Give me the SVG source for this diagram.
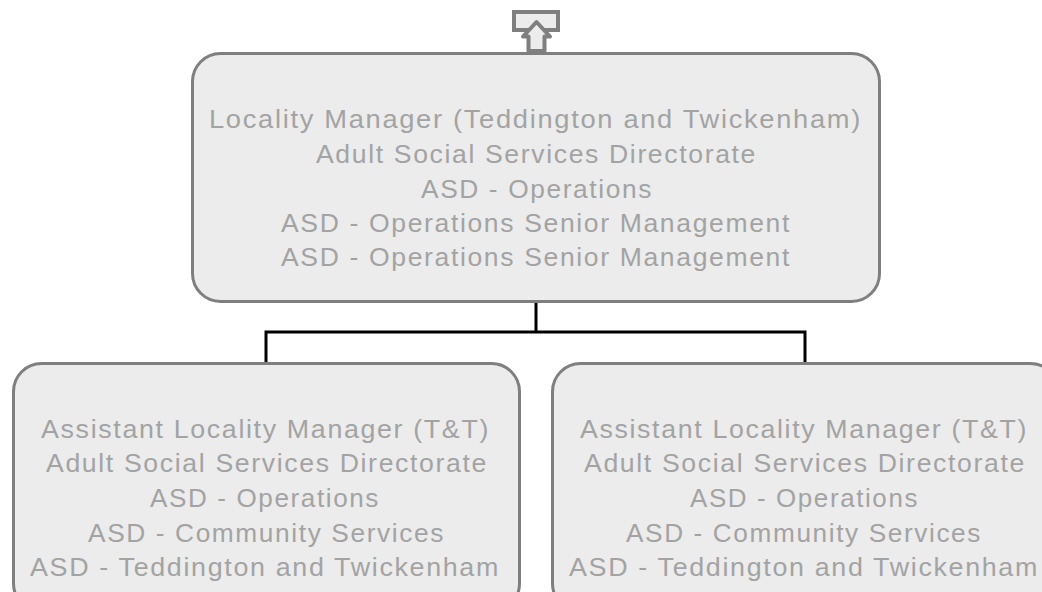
<svg xmlns="http://www.w3.org/2000/svg" width="1042" height="592" viewBox="0 0 1042 592">
<style>
.box{fill:#ececec;stroke:#7f7f7f;stroke-width:3}
.ico{fill:#ececec;stroke:#7f7f7f;stroke-width:4}
.t{font-family:"Liberation Sans",Arial,sans-serif;font-size:26px;fill:#a3a3a3;letter-spacing:1.6px}
.c{fill:none;stroke:#000;stroke-width:3}
</style>
<rect width="1042" height="592" fill="#fff"/>
<g id="connectors">
<path class="c" d="M536 302V332H266V363M536 332H805V363"/>
</g>
<g id="up-icon">
<rect class="ico" x="514" y="12" width="44" height="18"/>
<path class="ico" stroke-linejoin="round" d="M536.5 22L550 36.5H544.5V51H528.5V36.5H523Z"/>
</g>
<g id="manager">
<rect class="box" x="192.5" y="53.5" width="687" height="248" rx="28"/>
<text class="t" x="209" y="128" textLength="653" lengthAdjust="spacingAndGlyphs">Locality Manager (Teddington and Twickenham)</text>
<text class="t" x="316" y="163" textLength="441" lengthAdjust="spacingAndGlyphs">Adult Social Services Directorate</text>
<text class="t" x="421" y="198" textLength="232" lengthAdjust="spacingAndGlyphs">ASD - Operations</text>
<text class="t" x="281" y="232" textLength="510" lengthAdjust="spacingAndGlyphs">ASD - Operations Senior Management</text>
<text class="t" x="281" y="266" textLength="510" lengthAdjust="spacingAndGlyphs">ASD - Operations Senior Management</text>
</g>
<g id="assistant-left">
<rect class="box" x="13.5" y="363.5" width="506" height="248" rx="28"/>
<text class="t" x="41" y="438" textLength="449" lengthAdjust="spacingAndGlyphs">Assistant Locality Manager (T&amp;T)</text>
<text class="t" x="46" y="472" textLength="442" lengthAdjust="spacingAndGlyphs">Adult Social Services Directorate</text>
<text class="t" x="150" y="507" textLength="230" lengthAdjust="spacingAndGlyphs">ASD - Operations</text>
<text class="t" x="88" y="542" textLength="357" lengthAdjust="spacingAndGlyphs">ASD - Community Services</text>
<text class="t" x="30" y="576" textLength="470" lengthAdjust="spacingAndGlyphs">ASD - Teddington and Twickenham</text>
</g>
<g id="assistant-right">
<rect class="box" x="552.5" y="363.5" width="506" height="248" rx="28"/>
<text class="t" x="580" y="438" textLength="448" lengthAdjust="spacingAndGlyphs">Assistant Locality Manager (T&amp;T)</text>
<text class="t" x="584" y="472" textLength="442" lengthAdjust="spacingAndGlyphs">Adult Social Services Directorate</text>
<text class="t" x="690" y="507" textLength="229" lengthAdjust="spacingAndGlyphs">ASD - Operations</text>
<text class="t" x="626" y="542" textLength="356" lengthAdjust="spacingAndGlyphs">ASD - Community Services</text>
<text class="t" x="569" y="576" textLength="470" lengthAdjust="spacingAndGlyphs">ASD - Teddington and Twickenham</text>
</g>
</svg>
